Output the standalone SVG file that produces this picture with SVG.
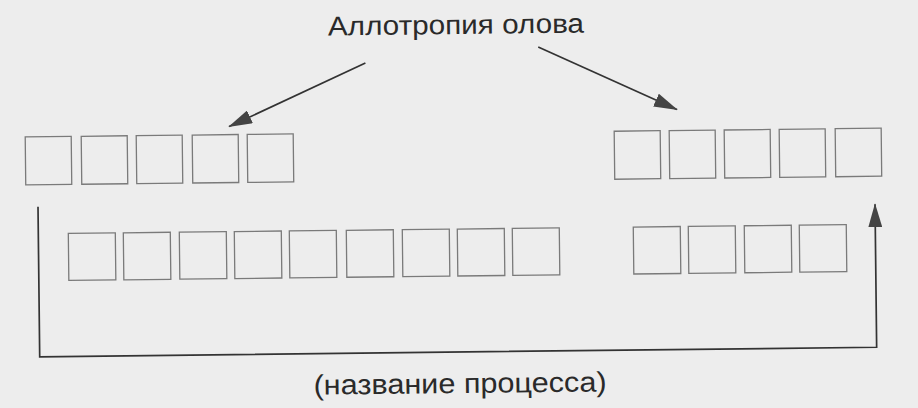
<svg xmlns="http://www.w3.org/2000/svg" width="918" height="408" viewBox="0 0 918 408">
<defs>
<style>
.box{fill:none;stroke:#7a7a7a;stroke-width:1.3}
.ln{fill:none;stroke:#333333;stroke-width:1.7}
.t{font-family:"Liberation Sans",Arial,sans-serif;fill:#2a2a2a}
</style>
<marker id="ah" viewBox="0 0 24 14" refX="23" refY="7" markerWidth="24" markerHeight="14" markerUnits="userSpaceOnUse" orient="auto">
<path d="M0,0 L24,7 L0,14 Z" fill="#444444"/>
</marker>
</defs>
<rect width="918" height="408" fill="#ededed"/>
<g transform="rotate(-0.65 459 204)">
<g id="title"><text class="t" x="458" y="34" font-size="27" text-anchor="middle" textLength="256" lengthAdjust="spacingAndGlyphs">Аллотропия олова</text></g>
<g id="row-top-left">
<rect class="box" x="26" y="132" width="46" height="48"/>
<rect class="box" x="82" y="132" width="46" height="48"/>
<rect class="box" x="137" y="132" width="46" height="48"/>
<rect class="box" x="193" y="132" width="46" height="48"/>
<rect class="box" x="248" y="132" width="46" height="48"/>
</g>
<g id="row-top-right">
<rect class="box" x="615" y="133" width="46" height="48"/>
<rect class="box" x="670" y="133" width="46" height="48"/>
<rect class="box" x="725" y="133" width="46" height="48"/>
<rect class="box" x="780" y="133" width="46" height="48"/>
<rect class="box" x="836" y="133" width="46" height="48"/>
</g>
<g id="row-bottom-left">
<rect class="box" x="68" y="229" width="47" height="47"/>
<rect class="box" x="123" y="229" width="47" height="47"/>
<rect class="box" x="179" y="229" width="47" height="47"/>
<rect class="box" x="234" y="229" width="47" height="47"/>
<rect class="box" x="289" y="229" width="47" height="47"/>
<rect class="box" x="346" y="229" width="47" height="47"/>
<rect class="box" x="402" y="229" width="47" height="47"/>
<rect class="box" x="457" y="229" width="47" height="47"/>
<rect class="box" x="512" y="229" width="47" height="47"/>
</g>
<g id="row-bottom-right">
<rect class="box" x="633" y="229" width="47" height="47"/>
<rect class="box" x="688" y="229" width="47" height="47"/>
<rect class="box" x="744" y="229" width="47" height="47"/>
<rect class="box" x="799" y="229" width="47" height="47"/>
</g>
<g id="label-bottom"><text class="t" x="458" y="393" font-size="28" text-anchor="middle" textLength="293" lengthAdjust="spacingAndGlyphs">(название процесса)</text></g>
<g id="connectors">
<line class="ln" x1="367" y1="62" x2="230" y2="124" marker-end="url(#ah)"/>
<line class="ln" x1="540" y1="48" x2="678" y2="112" marker-end="url(#ah)"/>
<polyline class="ln" points="38,202 38,352 875,352 875,209" marker-end="url(#ah)"/>
</g>
</g>
</svg>
